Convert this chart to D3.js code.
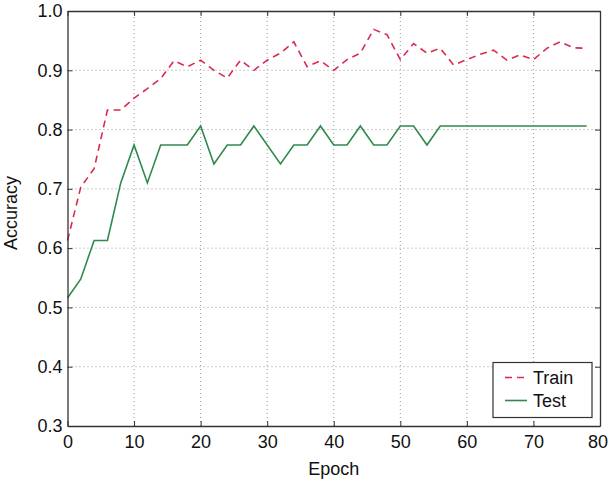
<!DOCTYPE html>
<html>
<head>
<meta charset="utf-8">
<script src="https://cdn.jsdelivr.net/npm/d3@7"></script>
<style>
  body { margin: 0; background: #fff; }
  text { font-family: "Liberation Sans", Arial, sans-serif; }
</style>
</head>
<body>
<div id="viz"></div>
<script>
const width = 608;
const height = 480;
const margin = {top: 11, right: 8, bottom: 54, left: 67.5};

// epochs 0..78, step 2
const epochs = [0, 2, 4, 6, 8, 10, 12, 14, 16, 18, 20, 22, 24, 26, 28, 30, 32, 34, 36, 38,
  40, 42, 44, 46, 48, 50, 52, 54, 56, 58, 60, 62, 64, 66, 68, 70, 72, 74, 76, 78];

const trainAcc = [0.613, 0.703, 0.734, 0.833, 0.833, 0.853, 0.869, 0.886, 0.916, 0.906,
  0.917, 0.900, 0.887, 0.917, 0.900, 0.917, 0.929, 0.948, 0.906, 0.916,
  0.900, 0.918, 0.929, 0.969, 0.960, 0.918, 0.945, 0.929, 0.937, 0.909,
  0.918, 0.927, 0.934, 0.917, 0.926, 0.918, 0.937, 0.948, 0.938, 0.937];

const testAcc = [0.516, 0.548, 0.613, 0.613, 0.710, 0.774, 0.710, 0.774, 0.774, 0.774,
  0.806, 0.742, 0.774, 0.774, 0.806, 0.774, 0.742, 0.774, 0.774, 0.806,
  0.774, 0.774, 0.806, 0.774, 0.774, 0.806, 0.806, 0.774, 0.806, 0.806,
  0.806, 0.806, 0.806, 0.806, 0.806, 0.806, 0.806, 0.806, 0.806, 0.806];

const xTicks = [0, 10, 20, 30, 40, 50, 60, 70, 80];
const yTicks = [0.3, 0.4, 0.5, 0.6, 0.7, 0.8, 0.9, 1.0];

const trainColor = '#dc2a4f';
const testColor = '#2e8a4c';
const axisColor = '#333';
const fontSize = '18px';

const svg = d3.select('#viz')
  .append('svg')
    .attr('width', width)
    .attr('height', height);

const xScale = d3.scaleLinear()
  .domain([0, 80])
  .range([margin.left, width - margin.right]);
const yScale = d3.scaleLinear()
  .domain([0.3, 1.0])
  .range([height - margin.bottom, margin.top]);

// Grid (dotted)
const grid = svg.append('g').attr('class', 'grid')
  .attr('stroke', '#999')
  .attr('stroke-width', 1)
  .attr('stroke-dasharray', '1,3');
grid.selectAll('.vgrid')
  .data(xTicks.slice(1, -1))
  .join('line')
    .attr('x1', d => xScale(d)).attr('x2', d => xScale(d))
    .attr('y1', yScale(0.3)).attr('y2', yScale(1.0));
grid.selectAll('.hgrid')
  .data(yTicks.slice(1, -1))
  .join('line')
    .attr('x1', xScale(0)).attr('x2', xScale(80))
    .attr('y1', d => yScale(d)).attr('y2', d => yScale(d));

// Lines
const line = (vals) => d3.line()
  .x((d, i) => xScale(epochs[i]))
  .y(d => yScale(d))(vals);

svg.append('path')
  .attr('d', line(trainAcc))
  .attr('fill', 'none')
  .attr('stroke', trainColor)
  .attr('stroke-width', 1.6)
  .attr('stroke-dasharray', '7,5');

svg.append('path')
  .attr('d', line(testAcc))
  .attr('fill', 'none')
  .attr('stroke', testColor)
  .attr('stroke-width', 1.6);

// Axes with inward ticks on all four sides
const tickLen = 5;
const fmt = d3.format('.1f');
const xAxisGroup = svg.append('g')
  .attr('transform', `translate(0,${yScale(0.3)})`)
  .call(d3.axisBottom(xScale).tickValues(xTicks).tickSize(-tickLen).tickPadding(9).tickSizeOuter(0));
const xTopGroup = svg.append('g')
  .attr('transform', `translate(0,${yScale(1.0)})`)
  .call(d3.axisTop(xScale).tickValues(xTicks).tickSize(-tickLen).tickFormat('').tickSizeOuter(0));
const yAxisGroup = svg.append('g')
  .attr('transform', `translate(${xScale(0)},0)`)
  .call(d3.axisLeft(yScale).tickValues(yTicks).tickFormat(fmt).tickSize(-tickLen).tickPadding(5).tickSizeOuter(0));
const yRightGroup = svg.append('g')
  .attr('transform', `translate(${xScale(80)},0)`)
  .call(d3.axisRight(yScale).tickValues(yTicks).tickSize(-tickLen).tickFormat('').tickSizeOuter(0));

[xAxisGroup, xTopGroup, yAxisGroup, yRightGroup].forEach(g => {
  g.select('.domain').attr('stroke', axisColor).attr('stroke-width', 1.3);
  g.selectAll('.tick line').attr('stroke', axisColor).attr('stroke-width', 1);
  g.selectAll('.tick text')
    .attr('fill', '#111')
    .style('font-size', fontSize)
    .style('font-family', '"Liberation Sans", Arial, sans-serif');
});
// keep the last label inside the page
xAxisGroup.selectAll('.tick text')
  .filter(d => d === 80)
  .attr('dx', -2.5);

// Axis labels
svg.append('text')
  .attr('x', (xScale(0) + xScale(80)) / 2)
  .attr('y', 475)
  .attr('text-anchor', 'middle')
  .attr('fill', '#111')
  .style('font-size', fontSize)
  .text('Epoch');

svg.append('text')
  .attr('transform', `translate(16.5,213) rotate(-90)`)
  .attr('text-anchor', 'middle')
  .attr('fill', '#111')
  .style('font-size', fontSize)
  .text('Accuracy');

// Legend
const legend = svg.append('g')
  .attr('transform', `translate(493,362.5)`);
legend.append('rect')
  .attr('width', 99)
  .attr('height', 55)
  .attr('fill', '#fff')
  .attr('stroke', axisColor)
  .attr('stroke-width', 1.2);
const items = [
  {name: 'Train', color: trainColor, dash: '7,5', y: 15},
  {name: 'Test', color: testColor, dash: null, y: 38}
];
items.forEach(it => {
  legend.append('line')
    .attr('x1', 12).attr('x2', 34)
    .attr('y1', it.y).attr('y2', it.y)
    .attr('stroke', it.color)
    .attr('stroke-width', 1.6)
    .attr('stroke-dasharray', it.dash);
  legend.append('text')
    .attr('x', 40)
    .attr('y', it.y + 6.5)
    .attr('fill', '#111')
    .style('font-size', fontSize)
    .text(it.name);
});
</script>
</body>
</html>
